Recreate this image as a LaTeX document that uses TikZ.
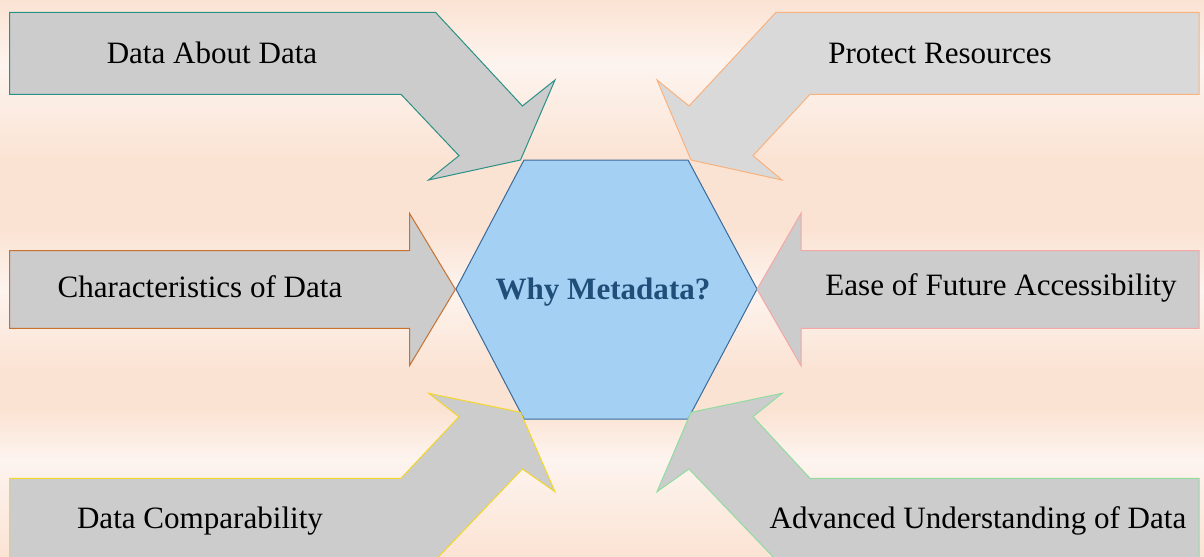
\documentclass[tikz,border=0pt]{standalone}
\usepackage{fontspec}
\setmainfont{Liberation Serif}
\usepackage{xcolor}
\usepackage{tikz}
\usetikzlibrary{calc}
\definecolor{peach}{HTML}{FBE3D3}
\definecolor{cream}{HTML}{FDF4EF}
\definecolor{hexfill}{HTML}{A3D0F3}
\definecolor{hexline}{HTML}{3A6A9A}
\definecolor{titleblue}{HTML}{1F4E79}
\definecolor{tealline}{HTML}{2A9187}
\definecolor{orgline}{HTML}{C8702E}
\definecolor{yelline}{HTML}{F2D62A}
\definecolor{ltorgline}{HTML}{F8B27E}
\definecolor{pinkline}{HTML}{F4A7A7}
\definecolor{grnline}{HTML}{90DDA0}
\tikzset{
    blk/.style={fill=black!20, line width=0.75pt, line join=miter},
    hexa/.style={fill=hexfill, draw=hexline, line width=0.75pt},
    lbl/.style={font=\fontsize{23.3}{28}\selectfont, text=black, inner sep=0pt},
    ttl/.style={font=\fontsize{23.3}{28}\selectfont\bfseries, text=titleblue, inner sep=0pt}
}

\begin{document}
\begin{tikzpicture}[x=0.75pt, y=-0.75pt]
\useasboundingbox (0,0) rectangle (1204,557);
\clip (0,0) rectangle (1204,557);

% ── Background bands ──────────────────────────────────────────────────
\shade[top color=peach, bottom color=cream]  (0,0)   rectangle (1204,65);
\shade[top color=cream, bottom color=peach]  (0,65)  rectangle (1204,160);
\fill[peach]                                 (0,160) rectangle (1204,230);
\shade[top color=peach, bottom color=cream]  (0,230) rectangle (1204,290);
\shade[top color=cream, bottom color=peach]  (0,290) rectangle (1204,370);
\fill[peach]                                 (0,370) rectangle (1204,410);
\shade[top color=peach, bottom color=cream]  (0,410) rectangle (1204,460);
\shade[top color=cream, bottom color=peach]  (0,460) rectangle (1204,557.5);

% ── Centre hexagon ────────────────────────────────────────────────────
\draw[hexa] (456,289) -- (524,160) -- (688,160) -- (757,289)
            -- (688,419) -- (524,419) -- cycle;
\node[ttl] at (603,292) (why) {Why Metadata?};

% ── Left arrows ───────────────────────────────────────────────────────
\draw[blk, draw=tealline]
    (9.6,12.3) -- (435.5,12.3) -- (522.4,106) -- (555,80) -- (520.5,160)
    -- (428.6,180) -- (459,155.7) -- (401,94.3) -- (9.6,94.3) -- cycle;
\draw[blk, draw=orgline]
    (9.6,250.7) -- (409.5,250.7) -- (409.5,213.3) -- (455.4,289.3)
    -- (409.5,365.7) -- (409.5,328.3) -- (9.6,328.3) -- cycle;
\draw[blk, draw=yelline]
    (9.6,478.3) -- (401,478.3) -- (459,416.7) -- (428.6,393.3) -- (520.5,412.3)
    -- (555,491.7) -- (522.4,469) -- (435.5,560) -- (9.6,560) -- cycle;

% ── Right arrows ──────────────────────────────────────────────────────
\draw[blk, fill=black!15, draw=ltorgline]
    (1199,12.3) -- (776,12.3) -- (689,106) -- (657,80) -- (691,160)
    -- (782,180) -- (753,155.7) -- (810,94.3) -- (1199,94.3) -- cycle;
\draw[blk, draw=pinkline]
    (1199,250.7) -- (801,250.7) -- (801,213.3) -- (757,289.3)
    -- (801,365.7) -- (801,328.3) -- (1199,328.3) -- cycle;
\draw[blk, draw=grnline]
    (1199,478.3) -- (810,478.3) -- (753,416.7) -- (782,393.3) -- (691,412.3)
    -- (657,491.7) -- (689,469) -- (776,560) -- (1199,560) -- cycle;

% ── Labels ────────────────────────────────────────────────────────────
\node[lbl] at (212,53)  (about)  {Data About Data};
\node[lbl] at (200,287) (chars)  {Characteristics of Data};
\node[lbl] at (200,521) (compar) {Data Comparability};
\node[lbl] at (940,53)  (protect){Protect Resources};
\node[lbl] at (1001,288)(ease)   {Ease of Future Accessibility};
\node[lbl] at (978,521) (advanc) {Advanced Understanding of Data};
\end{tikzpicture}
\end{document}
